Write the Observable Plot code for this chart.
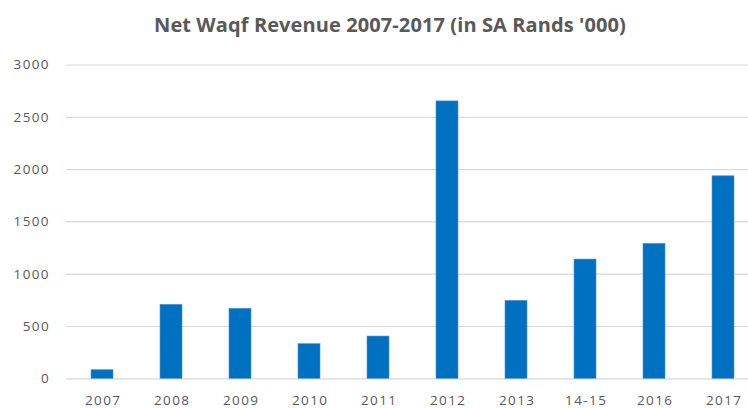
<!DOCTYPE html>
<html>
<head>
<meta charset="utf-8">
<script src="https://cdn.jsdelivr.net/npm/d3@7"></script>
<script src="https://cdn.jsdelivr.net/npm/@observablehq/plot@0.6"></script>
<style>
  html, body { margin: 0; padding: 0; background: #fff; }
  #wrap { width: 748px; height: 408px; overflow: hidden; position: relative; }
  #title {
    box-sizing: border-box; width: 748px; height: 50px;
    padding-left: 32px; padding-top: 14.7px;
    text-align: center; font-family: "Open Sans", sans-serif; font-weight: 700;
    font-size: 20px; line-height: 20px; color: #595959; letter-spacing: 0.1px;
    white-space: nowrap;
  }
  svg { display: block; }
  #chart svg text { letter-spacing: 1.4px; }
</style>
</head>
<body>
<div id="wrap">
  <div id="title">Net Waqf Revenue 2007-2017 (in SA Rands '000)</div>
  <div id="chart"></div>
</div>
<script>
const categories = ["2007", "2008", "2009", "2010", "2011", "2012", "2013", "14-15", "2016", "2017"];
const values = [82, 707, 669, 331, 404, 2652, 745, 1140, 1290, 1936];
const yTicks = [0, 500, 1000, 1500, 2000, 2500, 3000];

const data = categories.map((c, i) => ({category: c, value: values[i]}));

const chart = Plot.plot({
  width: 748,
  height: 358,
  marginLeft: 66,
  marginRight: 0,
  marginTop: 14.5,
  marginBottom: 29.7,
  style: {fontFamily: "'Open Sans', sans-serif", fontSize: "13.5px", color: "#595959", background: "#fff"},
  x: {domain: categories, range: [64.5, 760.1], paddingInner: 0.684, paddingOuter: 0.342, label: null},
  y: {domain: [0, 3000], label: null},
  marks: [
    Plot.ruleY(yTicks, {stroke: "#d9d9d9", strokeWidth: 1.2}),
    Plot.barY(data, {x: "category", y: "value", fill: "#0070C0", stroke: "#4a94d0", strokeWidth: 0.6}),
    Plot.axisY({ticks: yTicks, tickSize: 0, tickPadding: 16.5, tickFormat: d => String(d), fill: "#595959"}),
    Plot.axisX({tickSize: 0, tickPadding: 16.5, dx: 0.7, fill: "#595959"})
  ]
});
document.getElementById("chart").appendChild(chart);
</script>
</body>
</html>
